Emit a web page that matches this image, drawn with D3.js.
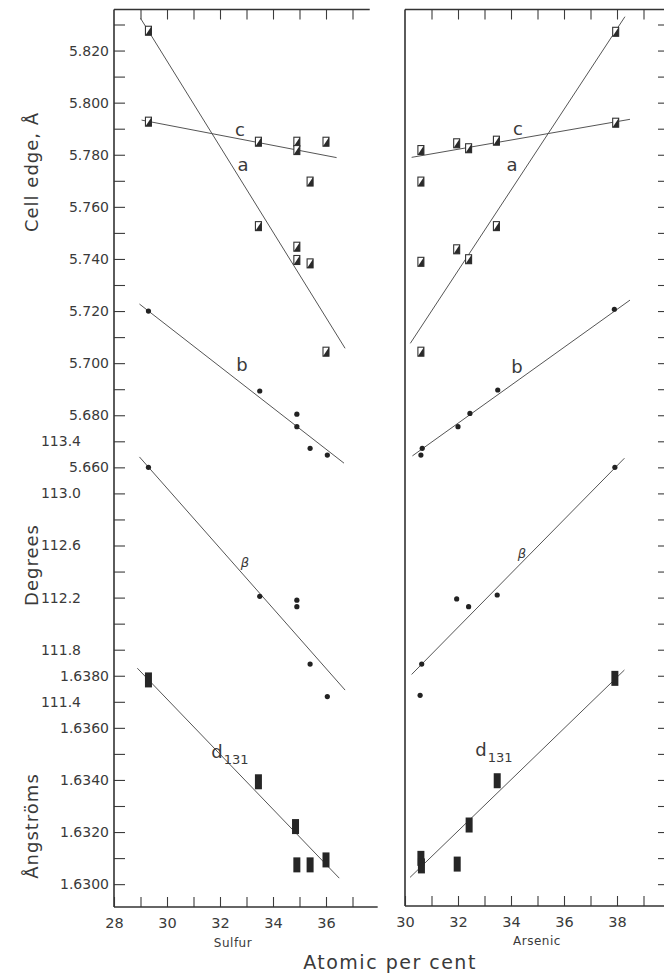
<!DOCTYPE html>
<html>
<head>
<meta charset="utf-8">
<script src="https://cdn.jsdelivr.net/npm/d3@7"></script>
<style>
  body { margin: 0; background: #fff; }
  text { font-family: "DejaVu Sans", sans-serif; fill: #3a3a3a; }
</style>
</head>
<body>
<div id="chart"></div>
<script>
const width = 664;
const height = 975;

// ---- data ----
// cell edge a, c (Å) -- Sulfur panel
const sulfurA = [[29.3, 5.8276], [33.45, 5.7526], [34.9, 5.7447], [34.9, 5.7396], [35.4, 5.7383], [36.0, 5.7044]];
const sulfurC = [[29.3, 5.7927], [33.45, 5.7850], [34.9, 5.7850], [34.9, 5.7818], [35.4, 5.7697], [36.0, 5.7850]];
const sulfurB = [[29.3, 5.7200], [33.5, 5.6893], [34.9, 5.6804], [34.9, 5.6756], [35.4, 5.6673], [36.05, 5.6647]];
const sulfurBeta = [[29.3, 113.20], [33.5, 112.21], [34.9, 112.18], [34.9, 112.13], [35.4, 111.69], [36.05, 111.44]];
const sulfurD = [[29.3, 1.63784], [33.45, 1.63393], [34.85, 1.63221], [34.9, 1.63074], [35.4, 1.63074], [36.0, 1.63093]];

// Arsenic panel
const arsenicA = [[37.95, 5.8272], [33.45, 5.7526], [31.95, 5.7437], [32.4, 5.7399], [30.6, 5.7389], [30.6, 5.7044]];
const arsenicC = [[37.95, 5.7923], [33.45, 5.7854], [31.95, 5.7844], [32.4, 5.7825], [30.6, 5.7818], [30.6, 5.7697]];
const arsenicB = [[37.9, 5.7207], [33.5, 5.6897], [32.45, 5.6807], [32.0, 5.6756], [30.65, 5.6673], [30.6, 5.6647]];
const arsenicBeta = [[37.92, 113.20], [31.95, 112.19], [32.4, 112.13], [33.48, 112.22], [30.63, 111.69], [30.57, 111.45]];
const arsenicD = [[37.92, 1.63790], [33.48, 1.63397], [32.42, 1.63227], [30.6, 1.63099], [30.62, 1.63070], [31.97, 1.63077]];

// fitted lines (end points)
const sulfurLines = {
  a: [[29.0, 5.8324], [36.72, 5.7057]],
  c: [[29.04, 5.7933], [36.4, 5.7789]],
  b: [[28.96, 5.7227], [36.68, 5.6616]],
  beta: [[28.96, 113.28], [36.72, 111.49]],
  d: [[28.88, 1.63829], [36.5, 1.63023]]
};
const arsenicLines = {
  a: [[30.2, 5.7076], [38.3, 5.8330]],
  c: [[30.25, 5.7790], [38.49, 5.7936]],
  b: [[30.28, 5.6644], [38.49, 5.7242]],
  beta: [[30.25, 111.61], [38.28, 113.27]],
  d: [[30.19, 1.63026], [38.28, 1.63822]]
};

// tick labels
const cellTicks = [5.820, 5.800, 5.780, 5.760, 5.740, 5.720, 5.700, 5.680, 5.660];
const degTicks = [113.4, 113.0, 112.6, 112.2, 111.8, 111.4];
const angTicks = [1.6380, 1.6360, 1.6340, 1.6320, 1.6300];
const sulfurXTicks = [28, 30, 32, 34, 36];
const arsenicXTicks = [30, 32, 34, 36, 38];

// ---- scales ----
const step = 26.05;           // one minor tick
const y0 = 24.5;              // top tick (5.830)
const xS = d3.scaleLinear().domain([28, 38]).range([114, 379]);
const xA = d3.scaleLinear().domain([30, 40]).range([405, 670]);
const yCell = d3.scaleLinear().domain([5.830, 5.660]).range([y0, y0 + 17 * step]);
const yDeg = d3.scaleLinear().domain([113.4, 111.4]).range([y0 + 16 * step, y0 + 26 * step]);
const yAng = d3.scaleLinear().domain([1.6380, 1.6300]).range([y0 + 25 * step, y0 + 33 * step]);

const topY = 9.5, botY = 907;
const ink = "#3c3c3c";

const svg = d3.select("#chart").append("svg")
    .attr("width", width)
    .attr("height", height);

// ---- frames ----
const minorVals = d3.range(0, 34).map(k => 5.830 - k * 0.01);

function styleAxis(g) {
  g.selectAll("path.domain").remove();
  g.selectAll("line").attr("stroke", ink).attr("stroke-width", 1.1);
  g.selectAll("text").style("font-family", "DejaVu Sans, sans-serif").attr("fill", "#444");
}

// left y axis ticks (inward)
svg.append("g")
    .attr("transform", `translate(${xS(28)},0)`)
    .call(d3.axisLeft(yCell).tickValues(minorVals).tickSizeInner(-11).tickSizeOuter(0).tickFormat(""))
    .call(styleAxis);

// cell edge labels
svg.append("g")
    .attr("transform", `translate(${xS(28)},0)`)
    .call(d3.axisLeft(yCell).tickValues(cellTicks).tickSize(0).tickPadding(5).tickFormat(d3.format(".3f")))
    .call(styleAxis)
    .selectAll("text").style("font-size", "14px");

// degrees labels
svg.append("g")
    .attr("transform", `translate(${xS(28)},0)`)
    .call(d3.axisLeft(yDeg).tickValues(degTicks).tickSize(0).tickPadding(33).tickFormat(d3.format(".1f")))
    .call(styleAxis)
    .selectAll("text").style("font-size", "14px");

// angstrom labels
svg.append("g")
    .attr("transform", `translate(${xS(28)},0)`)
    .call(d3.axisLeft(yAng).tickValues(angTicks).tickSize(0).tickPadding(5).tickFormat(d3.format(".4f")))
    .call(styleAxis)
    .selectAll("text").style("font-size", "14px");

// right panel right side ticks
svg.append("g")
    .attr("transform", `translate(${xA(40)},0)`)
    .call(d3.axisLeft(yCell).tickValues(minorVals).tickSizeInner(12).tickSizeOuter(0).tickFormat(""))
    .call(styleAxis);

// x axes
svg.append("g")
    .attr("transform", `translate(0,${botY})`)
    .call(d3.axisBottom(xS).tickValues(d3.range(28, 38)).tickSizeInner(-10).tickSizeOuter(0).tickPadding(11)
      .tickFormat(d => sulfurXTicks.includes(d) ? d : ""))
    .call(styleAxis)
    .selectAll("text").style("font-size", "14.5px");

svg.append("g")
    .attr("transform", `translate(0,${topY})`)
    .call(d3.axisTop(xS).tickValues(d3.range(29, 38)).tickSizeInner(-10).tickSizeOuter(0).tickFormat(""))
    .call(styleAxis);

svg.append("g")
    .attr("transform", `translate(0,${botY - 1})`)
    .call(d3.axisBottom(xA).tickValues(d3.range(30, 41)).tickSizeInner(-10).tickSizeOuter(0).tickPadding(11)
      .tickFormat(d => arsenicXTicks.includes(d) ? d : ""))
    .call(styleAxis)
    .selectAll("text").style("font-size", "14.5px");

svg.append("g")
    .attr("transform", `translate(0,${topY})`)
    .call(d3.axisTop(xA).tickValues(d3.range(31, 41)).tickSizeInner(-10).tickSizeOuter(0).tickFormat(""))
    .call(styleAxis);

// frame lines
const frame = [
  [[xS(28), topY], [xS(28), botY]],
  [[xS(28), topY], [xS(37.65), topY]],
  [[xS(28), botY], [xS(37.95), botY]],
  [[xA(30), topY], [xA(30), botY - 1]],
  [[xA(30), topY], [width, topY]],
  [[xA(30), botY - 1], [width, botY - 1]]
];
svg.selectAll("line.frame")
  .data(frame)
  .enter().append("line")
    .attr("class", "frame")
    .attr("x1", d => d[0][0]).attr("y1", d => d[0][1])
    .attr("x2", d => d[1][0]).attr("y2", d => d[1][1])
    .attr("stroke", "#333")
    .attr("stroke-width", 1.6);

// ---- series ----
function drawPanel(x, A, C, B, Beta, D, lines) {
  const fits = [
    [lines.a, yCell], [lines.c, yCell], [lines.b, yCell], [lines.beta, yDeg], [lines.d, yAng]
  ];
  svg.selectAll(null)
    .data(fits)
    .enter().append("line")
      .attr("x1", d => x(d[0][0][0])).attr("y1", d => d[1](d[0][0][1]))
      .attr("x2", d => x(d[0][1][0])).attr("y2", d => d[1](d[0][1][1]))
      .attr("stroke", "#555")
      .attr("stroke-width", 1);

  // half filled squares for a and c
  const sq = svg.selectAll(null)
    .data(A.concat(C))
    .enter().append("g")
      .attr("transform", d => `translate(${x(d[0])},${yCell(d[1])})`);
  sq.append("rect")
      .attr("x", -3).attr("y", -4.5).attr("width", 6).attr("height", 9)
      .attr("fill", "#fff").attr("stroke", "#333").attr("stroke-width", 1.1);
  sq.append("path")
      .attr("d", "M-3,4.5L3,-4.5L3,4.5Z")
      .attr("fill", "#2a2a2a");

  // dots for b and beta
  svg.selectAll(null)
    .data(B.map(d => [x(d[0]), yCell(d[1])]).concat(Beta.map(d => [x(d[0]), yDeg(d[1])])))
    .enter().append("circle")
      .attr("cx", d => d[0]).attr("cy", d => d[1])
      .attr("r", 2.6)
      .attr("fill", "#222");

  // bars for d131
  svg.selectAll(null)
    .data(D)
    .enter().append("rect")
      .attr("x", d => x(d[0]) - 3.5)
      .attr("y", d => yAng(d[1]) - 7.5)
      .attr("width", 7).attr("height", 15)
      .attr("fill", "#262626");
}

drawPanel(xS, sulfurA, sulfurC, sulfurB, sulfurBeta, sulfurD, sulfurLines);
drawPanel(xA, arsenicA, arsenicC, arsenicB, arsenicBeta, arsenicD, arsenicLines);

// ---- series labels ----
const seriesLabels = [
  {t: "c", x: 240, y: 130}, {t: "a", x: 243, y: 165}, {t: "b", x: 242, y: 365},
  {t: "c", x: 518, y: 129}, {t: "a", x: 512, y: 165}, {t: "b", x: 517, y: 367}
];
svg.selectAll("text.lab")
  .data(seriesLabels)
  .enter().append("text")
    .attr("class", "lab")
    .attr("x", d => d.x).attr("y", d => d.y)
    .attr("text-anchor", "middle")
    .attr("dy", "0.35em")
    .style("font-size", "18px")
    .text(d => d.t);

[[245, 562], [522, 553]].forEach(p => {
  svg.append("text")
    .attr("x", p[0]).attr("y", p[1])
    .attr("text-anchor", "middle").attr("dy", "0.35em")
    .style("font-size", "13px").style("font-style", "italic")
    .text("β");
});

[[230, 752], [494, 750]].forEach(p => {
  const t = svg.append("text")
    .attr("x", p[0]).attr("y", p[1])
    .attr("text-anchor", "middle").attr("dy", "0.35em")
    .style("font-size", "18px");
  t.append("tspan").text("d");
  t.append("tspan").attr("dy", "6").attr("dx", "1").style("font-size", "13px").text("131");
});

// ---- axis titles ----
[["Cell edge, Å", 32, 172], ["Degrees", 32, 565], ["Ångströms", 32, 826]].forEach(d => {
  svg.append("text")
    .attr("transform", `translate(${d[1]},${d[2]}) rotate(-90)`)
    .attr("text-anchor", "middle")
    .attr("dy", "0.35em")
    .style("font-size", "18px")
    .style("letter-spacing", "1px")
    .text(d[0]);
});

svg.append("text").attr("x", 233).attr("y", 943).attr("text-anchor", "middle").attr("dy", "0.35em")
  .style("font-size", "12px").style("letter-spacing", "0.5px").text("Sulfur");
svg.append("text").attr("x", 537).attr("y", 941).attr("text-anchor", "middle").attr("dy", "0.35em")
  .style("font-size", "12px").style("letter-spacing", "0.5px").text("Arsenic");
svg.append("text").attr("x", 390).attr("y", 962).attr("text-anchor", "middle").attr("dy", "0.35em")
  .style("font-size", "19px").style("letter-spacing", "1.5px").text("Atomic per cent");
</script>
</body>
</html>
